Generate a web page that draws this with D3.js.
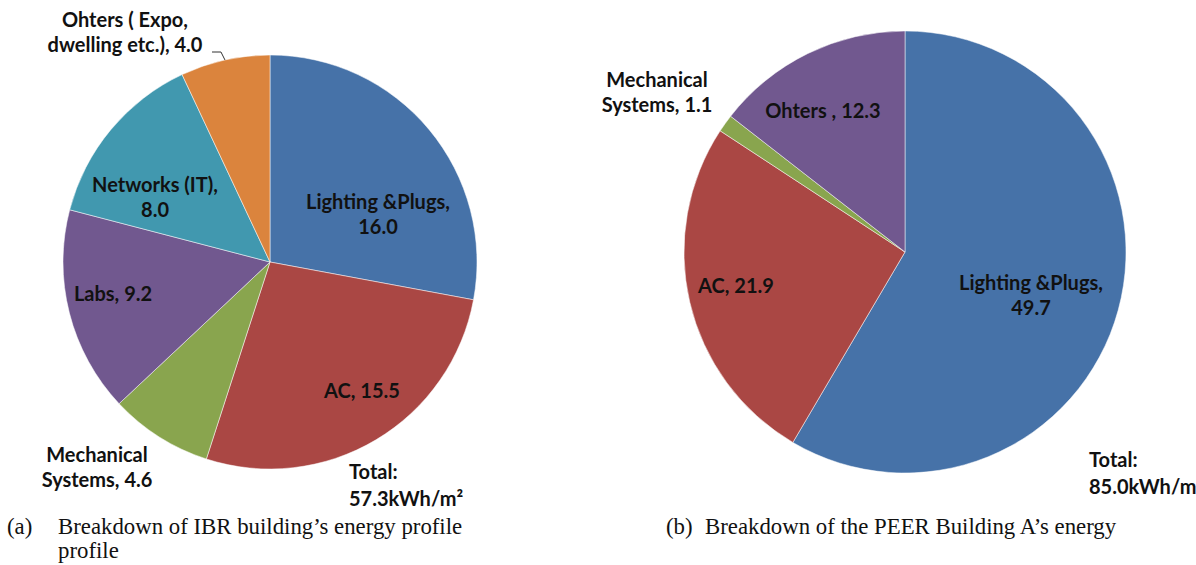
<!DOCTYPE html>
<html>
<head>
<meta charset="utf-8">
<script src="https://cdn.jsdelivr.net/npm/d3@7"></script>
<style>
  body { margin: 0; background: #fff; }
  svg { display: block; }
  .lbl { font-family: Lato, "Open Sans", sans-serif; font-weight: bold; font-size: 20px; fill: #111; }
  .cap { font-family: "Liberation Serif", "Times New Roman", serif; font-size: 22.8px; fill: #111; }
</style>
</head>
<body>
<svg width="1196" height="565"></svg>
<script>
'use strict';

// 数据 (a) IBR building
var ibrNames = ['Lighting &Plugs,', 'AC,', 'Mechanical Systems,', 'Labs,', 'Networks (IT),', 'Ohters ( Expo, dwelling etc.),'];
var ibrValues = [16.0, 15.5, 4.6, 9.2, 8.0, 4.0];
var ibrTotal = '57.3kWh/m²';

// 数据 (b) PEER Building A
var peerNames = ['Lighting &Plugs,', 'AC,', 'Mechanical Systems,', 'Ohters ,'];
var peerValues = [49.7, 21.9, 1.1, 12.3];
var peerTotal = '85.0kWh/m²';

var colors = {
    'Lighting &Plugs,': '#4672a8',
    'AC,': '#aa4744',
    'Mechanical Systems,': '#89a54e',
    'Labs,': '#71588f',
    'Networks (IT),': '#4198af',
    'Ohters ( Expo, dwelling etc.),': '#db843d',
    'Ohters ,': '#71588f'
};

var svg = d3.select('svg');
var lineHeight = 25;

function drawPie(opt) {
    var g = svg.append('g').attr('transform', 'translate(' + opt.cx + ',' + opt.cy + ')');
    var data = opt.names.map(function (n, i) { return { name: n, value: opt.values[i] }; });
    var pie = d3.pie().sort(null).value(function (d) { return d.value; });
    var arc = d3.arc().innerRadius(0).outerRadius(opt.r);
    var arcs = pie(data);

    g.selectAll('path')
        .data(arcs)
        .enter()
            .append('path')
            .attr('d', arc)
            .attr('fill', function (d) { return colors[d.data.name]; })
            .attr('stroke', '#fff')
            .attr('stroke-width', 0.5);

    // 标签
    arcs.forEach(function (d, i) {
        var lines = opt.lines[i](d.data.value.toFixed(1));
        var p = opt.labelOffsets[i];
        var t = g.append('text').attr('class', 'lbl').attr('text-anchor', 'middle');
        lines.forEach(function (s, k) {
            t.append('tspan')
                .attr('x', p[0])
                .attr('y', p[1] + (k - (lines.length - 1) / 2) * lineHeight + 6)
                .text(s);
        });
    });

    // 引导线
    if (opt.leader != null) {
        var d = arcs[opt.leader.index];
        var mid = (d.startAngle + d.endAngle) / 2;
        var ex = Math.sin(mid) * opt.r, ey = -Math.cos(mid) * opt.r;
        g.append('path')
            .attr('d', 'M' + opt.leader.from[0] + ',' + opt.leader.from[1] + 'H' + (ex - 4) + 'L' + ex + ',' + ey)
            .attr('fill', 'none')
            .attr('stroke', '#333')
            .attr('stroke-width', 1);
    }

    // Total
    var tt = svg.append('text').attr('class', 'lbl').attr('font-size', '23px');
    tt.append('tspan').attr('x', opt.totalPos[0]).attr('y', opt.totalPos[1]).text('Total:');
    tt.append('tspan').attr('x', opt.totalPos[0]).attr('y', opt.totalPos[1] + 27).text(opt.total);
}

drawPie({
    cx: 270, cy: 262, r: 207,
    names: ibrNames, values: ibrValues, total: ibrTotal,
    lines: [
        function (v) { return ['Lighting &Plugs,', v]; },
        function (v) { return ['AC, ' + v]; },
        function (v) { return ['Mechanical', 'Systems, ' + v]; },
        function (v) { return ['Labs, ' + v]; },
        function (v) { return ['Networks (IT),', v]; },
        function (v) { return ['Ohters ( Expo,', 'dwelling etc.), ' + v]; }
    ],
    labelOffsets: [[108, -47], [92, 130], [-173, 206], [-157, 33], [-115, -64], [-145, -229]],
    leader: { index: 5, from: [-58, -210] },
    totalPos: [349, 479]
});

drawPie({
    cx: 905, cy: 252, r: 221,
    names: peerNames, values: peerValues, total: peerTotal,
    lines: [
        function (v) { return ['Lighting &Plugs,', v]; },
        function (v) { return ['AC, ' + v]; },
        function (v) { return ['Mechanical', 'Systems, ' + v]; },
        function (v) { return ['Ohters , ' + v]; }
    ],
    labelOffsets: [[126, 44], [-169, 35], [-248, -159], [-82, -140]],
    leader: null,
    totalPos: [1089, 467]
});

// 图注
svg.append('text').attr('class', 'cap').attr('x', 7).attr('y', 534).text('(a)');
svg.append('text').attr('class', 'cap').attr('x', 58).attr('y', 534).text('Breakdown of IBR building’s energy profile');
svg.append('text').attr('class', 'cap').attr('x', 58).attr('y', 558).text('profile');
svg.append('text').attr('class', 'cap').attr('x', 666).attr('y', 534).text('(b)');
svg.append('text').attr('class', 'cap').attr('x', 705).attr('y', 534).text('Breakdown of the PEER Building A’s energy');
</script>
</body>
</html>
